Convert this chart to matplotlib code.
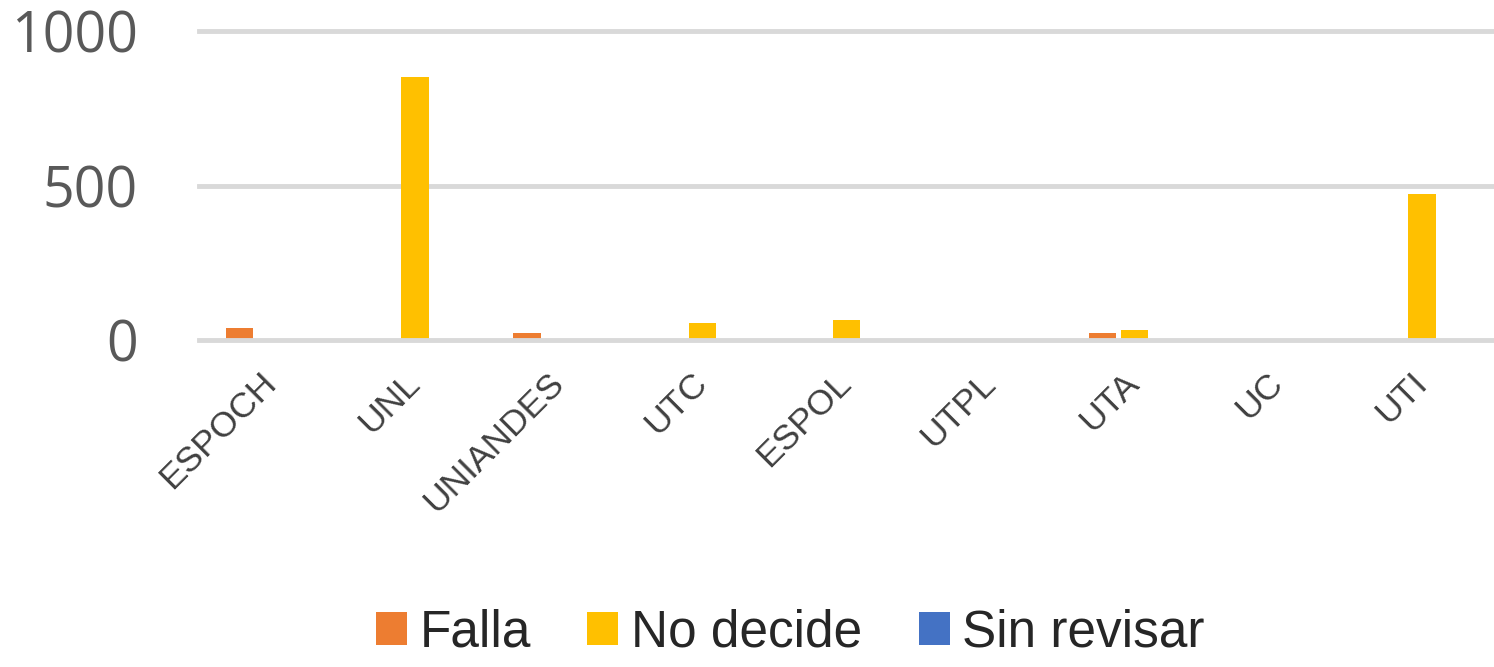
import numpy as np
import matplotlib
matplotlib.use("Agg")
import matplotlib.pyplot as plt
import matplotlib.transforms as mtransforms

# values
categories = ["ESPOCH", "UNL", "UNIANDES", "UTC", "ESPOL", "UTPL", "UTA", "UC", "UTI"]
falla = [40, 0, 22, 0, 0, 0, 22, 0, 0]
no_decide = [0, 850, 0, 54, 65, 0, 32, 0, 472]
sin_revisar = [0, 0, 0, 0, 0, 0, 0, 0, 0]
y_ticks = [0, 500, 1000]

series = [("Falla", falla, "#ED7D31"),
          ("No decide", no_decide, "#FFC000"),
          ("Sin revisar", sin_revisar, "#4472C4")]

label_font = ["Liberation Sans", "DejaVu Sans"]

fig = plt.figure(figsize=(14.94, 6.67), dpi=100)
ax = fig.add_axes([199 / 1494, 1 - 340 / 667, 1 - 199 / 1494, 309 / 667])

x = np.arange(len(categories))
width = 0.19
offsets = [-0.22, 0.0, 0.22]
for (name, vals, color), off in zip(series, offsets):
    ax.bar(x + off, vals, width, color=color, label=name, zorder=2)

ax.set_xlim(-0.5, len(categories) - 0.5)
ax.set_ylim(0, 1000)

# gridlines (zero line drawn above bars like the axis line)
for t in y_ticks:
    ax.axhline(t, color="#d9d9d9", lw=3.5, clip_on=False, zorder=3 if t == 0 else 1)

for s in ax.spines.values():
    s.set_visible(False)

ax.set_yticks(y_ticks)
ax.set_yticklabels([str(t) for t in y_ticks], fontsize=40, color="#595959", family="Open Sans")
ax.tick_params(axis="y", length=0, pad=44)

ax.set_xticks(x)
ax.set_xticklabels(categories, rotation=45, ha="right", rotation_mode="anchor",
                   fontsize=25.5, color="#404040", family=label_font)
ax.tick_params(axis="x", length=0, pad=19)
shift = mtransforms.ScaledTranslation(-12 / 100, 0, fig.dpi_scale_trans)
for lab in ax.get_xticklabels():
    lab.set_transform(lab.get_transform() + shift)

leg = fig.legend(loc="lower center", bbox_to_anchor=(0.529, -0.055), ncol=3, frameon=False,
                 handlelength=0.6, handleheight=0.6, handletextpad=0.25, columnspacing=1.1,
                 prop={"family": label_font, "size": 37})
for txt in leg.get_texts():
    txt.set_color("#262626")

fig.savefig("out.png", dpi=100)
